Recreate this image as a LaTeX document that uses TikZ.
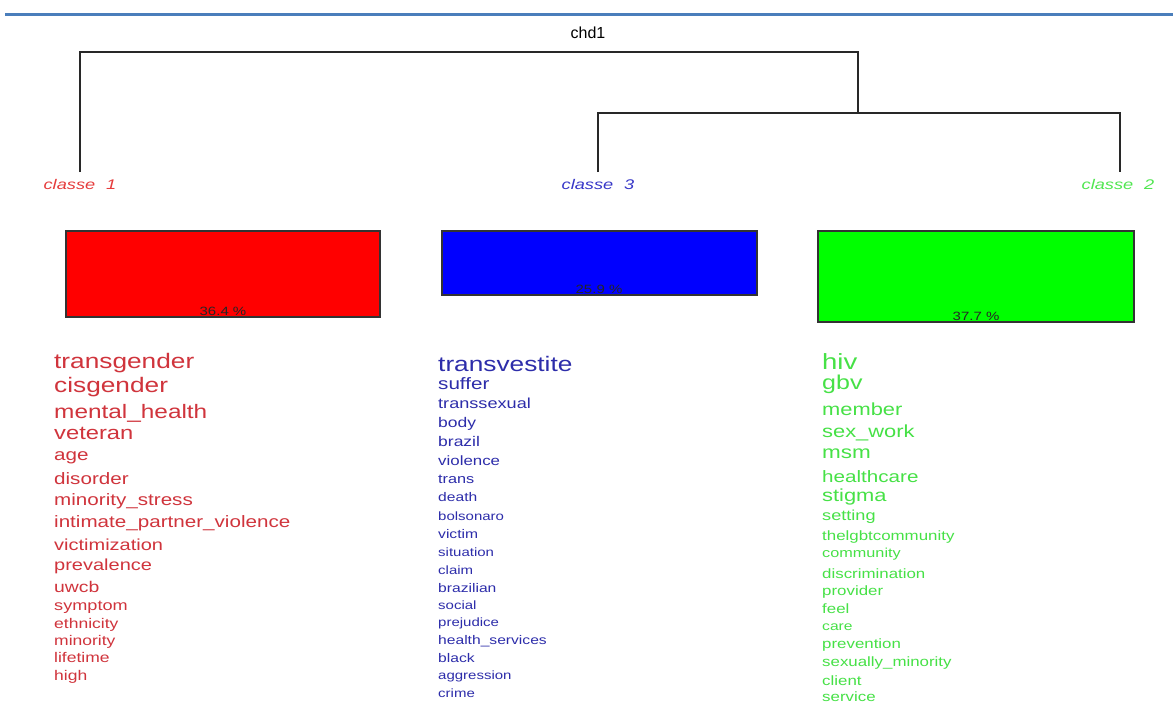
\documentclass[tikz,border=0pt]{standalone}
\usepackage{fontspec}
\setmainfont{Liberation Sans}
\newfontfamily\wf{Liberation Sans}[FakeStretch=1.25]
\newfontfamily\lf{Liberation Sans}[FakeStretch=1.3]
\newcommand\fs[1]{\fontsize{#1}{#1}\selectfont}
\definecolor{redw}{RGB}{208,52,60}
\definecolor{bluew}{RGB}{45,45,170}
\definecolor{greenw}{RGB}{70,225,70}
\definecolor{redl}{RGB}{230,60,60}
\definecolor{bluel}{RGB}{55,55,200}
\definecolor{greenl}{RGB}{80,230,80}
\definecolor{topblue}{RGB}{74,126,187}
\definecolor{dendc}{RGB}{40,40,40}
\tikzset{
  dend/.style={draw=dendc, line width=1.4pt},
  clab/.style={font=\lf\itshape\fs{14}, inner sep=0pt},
  bar/.style={draw=black!80, line width=1.5pt, inner sep=0pt},
  pct/.style={font=\wf\fs{12}, text=black!85, inner sep=0pt, anchor=base},
  word/.style={inner sep=0pt, anchor=base west},
}
\begin{document}
\begin{tikzpicture}[x=1pt,y=-1pt]
\useasboundingbox (0,0) rectangle (1173,702);
\fill[white] (0,0) rectangle (1173,702);
\draw[topblue, line width=3pt] (5,14) -- (1173,14);
\node[font=\fs{16}, inner sep=0pt] (title) at (588,33) {chd1};
% dendrogram
\coordinate (l1) at (80,172);
\coordinate (l3) at (598,172);
\coordinate (l2) at (1120,172);
\coordinate (root) at (858,52);
\coordinate (mid) at (858,113);
\draw[dend] (l1) |- (root) -- (mid);
\draw[dend] (l3) |- (mid) -| (l2);
\node[clab, text=redl] (c1) at (80,184) {classe\hspace{11pt}1};
\node[clab, text=bluel] (c3) at (598,184) {classe\hspace{11pt}3};
\node[clab, text=greenl] (c2) at (1118,184) {classe\hspace{11pt}2};
% bars
\node[bar, fill=red, minimum width=314pt, minimum height=86pt] (b1) at (223,274) {};
\node[bar, fill=blue, minimum width=315pt, minimum height=64pt] (b3) at (599.5,263) {};
\node[bar, fill=green, minimum width=316pt, minimum height=91pt] (b2) at (976,276.5) {};
\node[pct] (p1) at (223,315) {36.4 \%};
\node[pct] (p3) at (599,293) {25.9 \%};
\node[pct] (p2) at (976,320) {37.7 \%};
% words class 1
\foreach \t/\s/\y [count=\i] in {
  transgender/21/368, cisgender/21/392, mental\_health/19.5/418, veteran/19/439,
  age/16.5/460, disorder/16.5/484, minority\_stress/16.5/505,
  intimate\_partner\_violence/16.5/527, victimization/16/550, prevalence/16/570,
  uwcb/15.5/592, symptom/14.5/610, ethnicity/14/628, minority/14/645,
  lifetime/14/662, high/14/680}
  \node[word, text=redw, font=\wf\fs{\s}] (r\i) at (54,\y) {\t};
% words class 3
\foreach \t/\s/\y [count=\i] in {
  transvestite/21/371, suffer/16.5/389, transsexual/14.5/408, body/14/427,
  brazil/14/446, violence/13.5/465, trans/13/483, death/12.5/501,
  bolsonaro/12/520, victim/12.5/538, situation/12/556, claim/12/574,
  brazilian/12.5/592, social/12/609, prejudice/12/626, health\_services/12.5/644,
  black/12.5/662, aggression/12/679, crime/12/697}
  \node[word, text=bluew, font=\wf\fs{\s}] (u\i) at (438,\y) {\t};
% words class 2
\foreach \t/\s/\y [count=\i] in {
  hiv/22/369, gbv/20/389, member/17.5/415, sex\_work/17.5/437, msm/18/458,
  healthcare/16.5/482, stigma/17.5/501, setting/14.5/520,
  thelgbtcommunity/13.5/540, community/13/557, discrimination/13.5/578,
  provider/13.5/595, feel/13.5/613, care/12.5/630, prevention/13.5/648,
  sexually\_minority/13.5/666, client/13.5/685, service/13.5/701}
  \node[word, text=greenw, font=\wf\fs{\s}] (g\i) at (822,\y) {\t};
\end{tikzpicture}
\end{document}
